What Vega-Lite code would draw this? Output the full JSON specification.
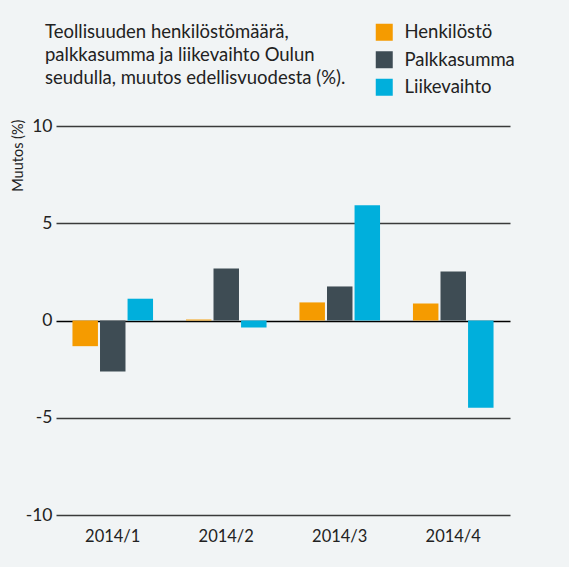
{
  "$schema": "https://vega.github.io/schema/vega-lite/v6.json",
  "width": 454,
  "height": 389,
  "autosize": "none",
  "padding": {"left": 56, "top": 126, "right": 59, "bottom": 52},
  "background": "#f1f4f5",
  "title": {
    "text": ["Teollisuuden henkilöstömäärä,", "palkkasumma ja liikevaihto Oulun", "seudulla, muutos edellisvuodesta (%)."],
    "anchor": "start",
    "frame": "group",
    "baseline": "alphabetic",
    "font": "Lato",
    "fontSize": 18.5,
    "fontWeight": "normal",
    "color": "#222222",
    "lineHeight": 23,
    "dx": -11,
    "offset": -79
  },
  "data": {
    "values": [
      {"period": "2014/1", "series": "Henkilöstö", "value": -1.32},
      {"period": "2014/1", "series": "Palkkasumma", "value": -2.62},
      {"period": "2014/1", "series": "Liikevaihto", "value": 1.12},
      {"period": "2014/2", "series": "Henkilöstö", "value": 0.05},
      {"period": "2014/2", "series": "Palkkasumma", "value": 2.67},
      {"period": "2014/2", "series": "Liikevaihto", "value": -0.36},
      {"period": "2014/3", "series": "Henkilöstö", "value": 0.93},
      {"period": "2014/3", "series": "Palkkasumma", "value": 1.75},
      {"period": "2014/3", "series": "Liikevaihto", "value": 5.92},
      {"period": "2014/4", "series": "Henkilöstö", "value": 0.87},
      {"period": "2014/4", "series": "Palkkasumma", "value": 2.52},
      {"period": "2014/4", "series": "Liikevaihto", "value": -4.48}
    ]
  },
  "mark": {"type": "bar"},
  "encoding": {
    "x": {
      "field": "period",
      "type": "nominal",
      "scale": {"paddingInner": 0.29, "paddingOuter": 0.145},
      "axis": {
        "title": null,
        "labelAngle": 0,
        "domain": false,
        "ticks": false,
        "labelPadding": 13,
        "labelFont": "Lato",
        "labelFontSize": 16.5,
        "labelColor": "#222222",
        "labelDx": 3
      }
    },
    "xOffset": {
      "field": "series",
      "type": "nominal",
      "sort": ["Henkilöstö", "Palkkasumma", "Liikevaihto"],
      "scale": {"paddingInner": 0.075, "paddingOuter": 0}
    },
    "y": {
      "field": "value",
      "type": "quantitative",
      "scale": {"domain": [-10, 10], "nice": false},
      "axis": {
        "title": "Muutos (%)",
        "values": [-10, -5, 0, 5, 10],
        "labelExpr": "datum.value + ''",
        "grid": true,
        "gridColor": {"condition": {"test": "datum.value === 0", "value": "#000000"}, "value": "#3a3a3a"},
        "gridWidth": 1.5,
        "gridOpacity": 1,
        "domain": false,
        "ticks": false,
        "labelPadding": 4,
        "labelFont": "Lato",
        "labelFontSize": 17.5,
        "labelColor": "#222222",
        "titleFont": "Lato",
        "titleFontSize": 14.5,
        "titleFontWeight": "normal",
        "titleColor": "#222222",
        "titleAnchor": "end",
        "titleY": -7,
        "titlePadding": 0
      }
    },
    "color": {
      "field": "series",
      "type": "nominal",
      "sort": ["Henkilöstö", "Palkkasumma", "Liikevaihto"],
      "scale": {"domain": ["Henkilöstö", "Palkkasumma", "Liikevaihto"], "range": ["#f59b00", "#3e4c54", "#00afdc"]},
      "legend": {
        "title": null,
        "orient": "none",
        "legendX": 319,
        "legendY": -103,
        "symbolType": "square",
        "symbolSize": 289,
        "symbolStrokeWidth": 0,
        "symbolOpacity": 1,
        "rowPadding": 8.5,
        "labelOffset": 11,
        "labelFont": "Lato",
        "labelFontSize": 18.5,
        "labelColor": "#222222"
      }
    }
  },
  "config": {"view": {"stroke": null}}
}
